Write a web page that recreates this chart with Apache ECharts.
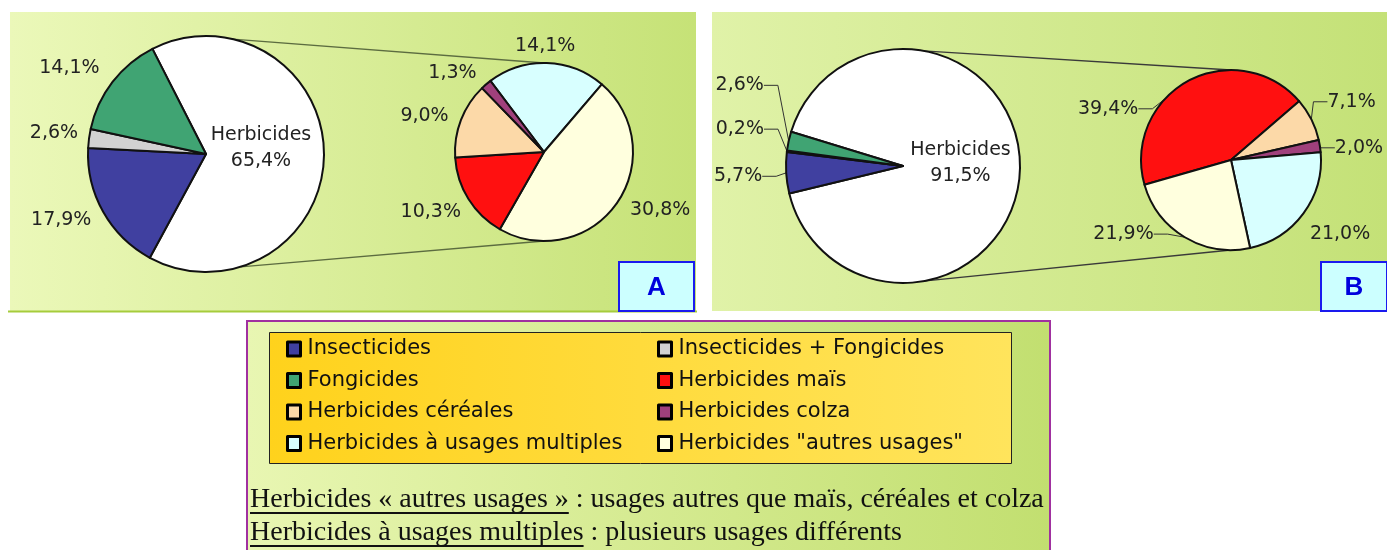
<!DOCTYPE html>
<html>
<head>
<meta charset="utf-8">
<script src="https://cdn.jsdelivr.net/npm/echarts@6/dist/echarts.min.js"></script>
<style>
html, body { margin: 0; padding: 0; background: #fff; }
#chart { width: 1387px; height: 550px; }
</style>
</head>
<body>
<div id="chart"></div>
<script>
// legend (two columns)
var legendLeft = ['Insecticides', 'Fongicides', 'Herbicides céréales', 'Herbicides à usages multiples'];
var legendRight = ['Insecticides + Fongicides', 'Herbicides maïs', 'Herbicides colza', 'Herbicides "autres usages"'];

// A : all pesticides, then herbicides detail
var totalNamesA = ['Herbicides', 'Insecticides', 'Insecticides + Fongicides', 'Fongicides'];
var totalValuesA = [65.4, 17.9, 2.6, 14.1];
var herbNamesA = ['Herbicides à usages multiples', 'Herbicides "autres usages"', 'Herbicides maïs', 'Herbicides céréales', 'Herbicides colza'];
var herbValuesA = [14.1, 30.8, 10.3, 9.0, 1.3];

// B
var totalNamesB = ['Herbicides', 'Insecticides', 'Insecticides + Fongicides', 'Fongicides'];
var totalValuesB = [91.5, 5.7, 0.2, 2.6];
var herbNamesB = ['Herbicides maïs', 'Herbicides céréales', 'Herbicides colza', 'Herbicides à usages multiples', 'Herbicides "autres usages"'];
var herbValuesB = [39.4, 7.1, 2.0, 21.0, 21.9];

var noteLines = [
    ['Herbicides « autres usages »', ' : usages autres que maïs, céréales et colza'],
    ['Herbicides à usages multiples', ' : plusieurs usages différents']
];

var colors = {
    'Herbicides': '#ffffff',
    'Insecticides': '#4040a0',
    'Insecticides + Fongicides': '#d2d2d2',
    'Fongicides': '#40a473',
    'Herbicides maïs': '#ff1010',
    'Herbicides céréales': '#fcd9a8',
    'Herbicides colza': '#a0407c',
    'Herbicides à usages multiples': '#d8ffff',
    'Herbicides "autres usages"': '#ffffde'
};

// layout
var pies = {
    bigA:   { c: [206, 154], r: 118, start: 117 },
    smallA: { c: [544, 152], r: 89,  start: 127 },
    bigB:   { c: [903, 166], r: 117, start: 163 },
    smallB: { c: [1231, 160], r: 90, start: 196 }
};
// small label nudges [dx, dy] per slice
var nudges = {
    bigA:   [[-7, -7], [2, 3], [4, -4], [0, -8]],
    smallA: [[-37, -7], [0, 1], [6, 8], [2, 0], [2, -4]],
    bigB:   [[-4, -5], [3, 3], [4, -21], [2, -54]],
    smallB: [[-27, 35], [-10, -14], [-12, 3], [-19, 16], [-8, -10]]
};

var labelFont = 'DejaVu Sans';

function fmt(v) {
    return v.toFixed(1).replace('.', ',') + '%';
}

function nudgeLayout(list) {
    return function (p) {
        var n = list[p.dataIndex] || [0, 0];
        var r = p.labelRect;
        return { x: r.x + r.width / 2 + n[0], y: r.y + n[1], align: 'center', verticalAlign: 'top' };
    };
}

function pieSeries(key, names, values, showLine, noLineNames) {
    var g = pies[key];
    return {
        type: 'pie',
        center: g.c,
        radius: g.r,
        startAngle: g.start,
        clockwise: true,
        avoidLabelOverlap: false,
        animation: false,
        emphasis: { disabled: true },
        itemStyle: { borderColor: '#111', borderWidth: 2 },
        label: {
            position: 'outside',
            color: '#222',
            fontFamily: labelFont,
            fontSize: 19,
            lineHeight: 26,
            formatter: function (p) {
                return p.name === 'Herbicides' ? 'Herbicides\n' + fmt(p.value) : fmt(p.value);
            }
        },
        labelLine: {
            show: showLine,
            length: showLine ? 8 : 10,
            length2: showLine ? 14 : 0,
            lineStyle: { color: '#333', width: 1 }
        },
        labelLayout: nudgeLayout(nudges[key]),
        data: names.map(function (n, i) {
            var item = { name: n, value: values[i], itemStyle: { color: colors[n] } };
            if (n === 'Herbicides') {
                item.label = { position: 'inside' };
            }
            if (noLineNames && noLineNames.indexOf(n) >= 0) {
                item.labelLine = { show: false };
            }
            return item;
        })
    };
}

function edgePoint(g, deg) {
    var a = deg * Math.PI / 180;
    return [g.c[0] + g.r * Math.cos(a), g.c[1] - g.r * Math.sin(a)];
}

function connector(big, small, angBig, angSmall, color) {
    var p1 = edgePoint(big, angBig), p2 = edgePoint(small, angSmall);
    return {
        type: 'line',
        shape: { x1: p1[0], y1: p1[1], x2: p2[0], y2: p2[1] },
        style: { stroke: color, lineWidth: 1.3 }
    };
}

function grad(c1, c2) {
    return new echarts.graphic.LinearGradient(0, 0, 1, 0, [
        { offset: 0, color: c1 }, { offset: 1, color: c2 }
    ]);
}

function letterBox(x, y, w, h, txt) {
    return [{
        type: 'rect',
        shape: { x: x, y: y, width: w, height: h },
        style: { fill: '#ccffff', stroke: '#1a1aee', lineWidth: 2 }
    }, {
        type: 'text',
        x: x + w / 2, y: y + h / 2 + 1,
        style: { text: txt, fill: '#0000dd', fontSize: 26, fontWeight: 'bold', fontFamily: 'Liberation Sans', align: 'center', verticalAlign: 'middle' }
    }];
}

var ctx = document.createElement('canvas').getContext('2d');
ctx.font = '28px "Liberation Serif"';

var graphics = [
    { type: 'rect', shape: { x: 10, y: 12, width: 686, height: 299 }, style: { fill: grad('#ebf8b9', '#c6e277') } },
    { type: 'line', shape: { x1: 8, y1: 311.5, x2: 697, y2: 311.5 }, style: { stroke: '#a6cc3c', lineWidth: 2 } },
    { type: 'rect', shape: { x: 712, y: 12, width: 675, height: 299 }, style: { fill: grad('#e0f2a8', '#c4e177') } },
    { type: 'rect', shape: { x: 247, y: 321, width: 803, height: 240 }, style: { fill: grad('#e8f6b2', '#c2df70'), stroke: '#a030a0', lineWidth: 2 } },
    { type: 'rect', shape: { x: 269.5, y: 332.5, width: 742, height: 131 }, style: { fill: grad('#ffd21c', '#ffe45c'), stroke: '#222', lineWidth: 1 } },
    connector(pies.bigA, pies.smallA, 77, 90, '#5c6c40'),
    connector(pies.bigA, pies.smallA, -73, -90, '#5c6c40'),
    connector(pies.bigB, pies.smallB, 80, 90, '#3a3a3a'),
    connector(pies.bigB, pies.smallB, -80, -90, '#3a3a3a')
].concat(letterBox(619, 262, 75, 49, 'A'), letterBox(1321, 262, 66, 49, 'B'));

noteLines.forEach(function (ln, i) {
    var y = 500 + i * 33;
    var w = ctx.measureText(ln[0]).width;
    graphics.push({
        type: 'text', x: 250, y: y,
        style: { text: ln[0] + ln[1], fill: '#111', fontSize: 28, fontFamily: 'Liberation Serif', verticalAlign: 'middle' }
    });
    graphics.push({
        type: 'line',
        shape: { x1: 250, y1: y + 13, x2: 250 + w, y2: y + 13 },
        style: { stroke: '#111', lineWidth: 2 }
    });
});

function legendCol(left, names) {
    return {
        orient: 'vertical',
        left: left,
        top: 338,
        padding: 0,
        itemGap: 9.5,
        itemWidth: 13,
        itemHeight: 14,
        icon: 'rect',
        selectedMode: false,
        itemStyle: { borderColor: '#000', borderWidth: 3 },
        textStyle: { color: '#111', fontFamily: 'DejaVu Sans', fontSize: 21, lineHeight: 22, padding: [0, 0, 0, 2] },
        data: names
    };
}

var chart = echarts.init(document.getElementById('chart'), null, { renderer: 'canvas' });
chart.setOption({
    animation: false,
    backgroundColor: '#ffffff',
    graphic: graphics,
    legend: [legendCol(286, legendLeft), legendCol(657, legendRight)],
    series: [
        pieSeries('bigA', totalNamesA, totalValuesA, false),
        pieSeries('smallA', herbNamesA, herbValuesA, false),
        pieSeries('bigB', totalNamesB, totalValuesB, true),
        pieSeries('smallB', herbNamesB, herbValuesB, true, ['Herbicides à usages multiples'])
    ]
});
</script>
</body>
</html>
